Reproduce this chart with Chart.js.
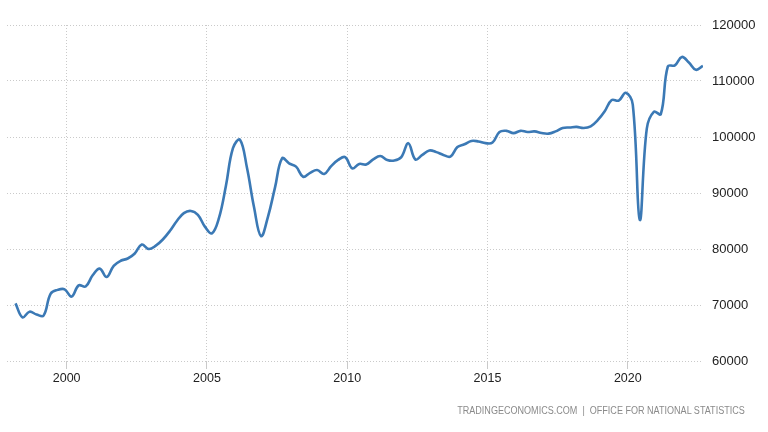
<!DOCTYPE html>
<html>
<head>
<meta charset="utf-8">
<script src="https://cdn.jsdelivr.net/npm/chart.js@4/dist/chart.umd.min.js"></script>
<style>
  html, body { margin: 0; padding: 0; background: #ffffff; }
  #wrap { position: relative; width: 768px; height: 432px; }
  #src { position: absolute; right: 23px; top: 405px; font: 10px "Liberation Sans", Arial, sans-serif; color: #8a8a8a; white-space: nowrap; transform: scaleX(0.905); transform-origin: right center; }
</style>
</head>
<body>
<div id="wrap">
  <canvas id="c" width="768" height="432"></canvas>
  <div id="src">TRADINGECONOMICS.COM &nbsp;|&nbsp; OFFICE FOR NATIONAL STATISTICS</div>
</div>
<script>
// Quarterly series, 1998 Q1 .. 2022 Q3
const startYear = 1998;
const values = [
  70300, 67800, 68800, 68300,   // 1998
  68100, 72000, 72700, 72800,   // 1999
  71500, 73500, 73300, 75300,   // 2000
  76500, 75000, 77000, 77900,   // 2001
  78300, 79200, 80800, 80000,   // 2002
  80600, 81700, 83200, 85000,   // 2003
  86400, 86800, 86100, 84000,   // 2004
  82800, 85500, 91300, 98000,   // 2005
  99500, 94500, 87500, 82300,   // 2006
  85800, 91000, 96200, 95300,   // 2007
  94700, 92900, 93600, 94100,   // 2008
  93400, 94800, 95900, 96400,   // 2009
  94400, 95200, 95100, 96000,   // 2010
  96600, 95900, 95800, 96400,   // 2011
  98900, 96000, 96800, 97600,   // 2012
  97300, 96800, 96500, 98200,   // 2013
  98700, 99300, 99200, 98900,   // 2014
  99000, 100900, 101100, 100700, // 2015
  101100, 100900, 101000, 100700, // 2016
  100600, 101000, 101600, 101700, // 2017
  101800, 101600, 101900, 103000, // 2018
  104600, 106600, 106500, 107900, // 2019
  105800, 85200, 101500, 104500, // 2020
  104100, 112600, 112800, 114300, // 2021
  113300, 112000, 112700         // 2022
];
const yTicks = [60000, 70000, 80000, 90000, 100000, 110000, 120000];
const xTickYears = [2000, 2005, 2010, 2015, 2020];

const points = values.map((v, i) => ({ x: startYear + 0.177 + i * 0.25, y: v }));

const gridColor = '#cacaca';
new Chart(document.getElementById('c'), {
  type: 'line',
  data: {
    datasets: [{
      data: points,
      borderColor: '#3b79b5',
      borderWidth: 2.6,
      pointRadius: 0,
      tension: 0.4,
      fill: false
    }]
  },
  options: {
    responsive: false,
    animation: false,
    events: [],
    layout: { padding: { left: 7, top: 25, right: 0, bottom: 0 } },
    plugins: { legend: { display: false }, tooltip: { enabled: false } },
    scales: {
      x: {
        type: 'linear',
        min: 1997.874,
        max: 2022.68,
        afterBuildTicks: s => { s.ticks = xTickYears.map(v => ({ value: v })); },
        afterFit: s => { s.height = 71; },
        grid: { color: gridColor, borderDash: [1, 2], lineWidth: 1, drawTicks: true, tickLength: 8 },
        border: { display: false, dash: [1, 2] },
        ticks: { padding: 2, color: '#222', font: { family: 'Liberation Sans', size: 12.5 }, maxRotation: 0, callback: v => String(v) }
      },
      y: {
        position: 'right',
        min: 60000,
        max: 120000,
        afterBuildTicks: s => { s.ticks = yTicks.map(v => ({ value: v })); },
        afterFit: s => { s.width = 65; },
        grid: { color: gridColor, borderDash: [1, 2], lineWidth: 1, drawTicks: false },
        border: { display: false, dash: [1, 2] },
        ticks: { padding: 9, color: '#222', font: { family: 'Liberation Sans', size: 13 }, callback: v => String(v) }
      }
    }
  }
});
</script>
</body>
</html>
